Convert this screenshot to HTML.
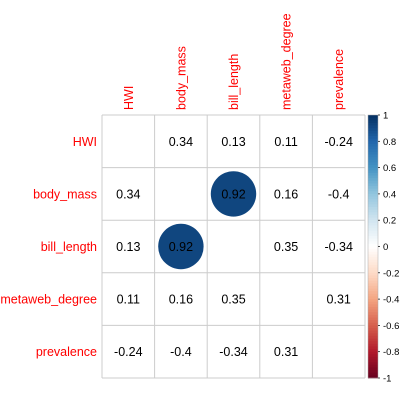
<!DOCTYPE html>
<html><head><meta charset="utf-8"><style>
body{margin:0;background:#fff}
svg{display:block;font-family:"Liberation Sans",sans-serif}
</style></head><body>
<svg id="c" width="400" height="400"></svg>
<script>
const vars=["HWI","body_mass","bill_length","metaweb_degree","prevalence"];
const corr=[
[null,0.34,0.13,0.11,-0.24],
[0.34,null,0.92,0.16,-0.4],
[0.13,0.92,null,0.35,-0.34],
[0.11,0.16,0.35,null,0.31],
[-0.24,-0.4,-0.34,0.31,null]];
const barTicks=[1,0.8,0.6,0.4,0.2,0,-0.2,-0.4,-0.6,-0.8,-1];
const cellLabels=["0.34","0.13","0.11","-0.24","0.34","0.92","0.16","-0.4","0.13","0.92","0.35","-0.34","0.11","0.16","0.35","0.31","-0.24","-0.4","-0.34","0.31"];
const NS="http://www.w3.org/2000/svg",svg=document.getElementById('c');
const L=102,T=115,S=52.6,n=vars.length;
const x=i=>L+i*S, y=i=>T+i*S;
function mk(t,a,p){const e=document.createElementNS(NS,t);for(const k in a)e.setAttribute(k,a[k]);(p||svg).appendChild(e);return e;}
function col(v){
 const stops=[[-1,[103,0,31]],[-0.8,[178,24,43]],[-0.6,[214,96,77]],[-0.4,[244,165,130]],[-0.2,[253,219,199]],[0,[255,255,255]],[0.2,[209,229,240]],[0.4,[146,197,222]],[0.6,[67,147,195]],[0.8,[33,102,172]],[1,[5,48,97]]];
 for(let i=0;i<stops.length-1;i++){const a=stops[i],b=stops[i+1];if(v>=a[0]&&v<=b[0]){const t=(v-a[0])/(b[0]-a[0]);return 'rgb('+a[1].map((c,j)=>Math.round(c+(b[1][j]-c)*t)).join(',')+')';}}
 return '#fff';
}
for(let i=0;i<=n;i++){
 let l=mk('line',{x1:x(i),x2:x(i),y1:T,y2:y(n),stroke:'#ccc','stroke-width':1});
 
 l=mk('line',{x1:L,x2:x(n),y1:y(i),y2:y(i),stroke:'#ccc','stroke-width':1});
 
}
let k=0;
for(let r=0;r<n;r++)for(let c=0;c<n;c++){
 const v=corr[r][c];if(v===null)continue;
 const cx=x(c)+S/2,cy=y(r)+S/2;
 if(Math.abs(v)>0.5){
  const ci=mk('circle',{cx:cx,cy:cy,r:0.9*S/2*Math.sqrt(Math.abs(v)),fill:col(v)});
  
 }
 const t=mk('text',{x:cx,y:cy+4.5,'text-anchor':'middle','font-size':12.5,fill:'#000'});
 t.textContent=cellLabels[k++];
 
}
vars.forEach((v,i)=>{
 let t=mk('text',{x:L-5,y:y(i)+S/2+4.5,'text-anchor':'end','font-size':12.5,fill:'#f00'});
 t.textContent=v;
 const cx=x(i)+S/2+4.5;
 t=mk('text',{x:cx,y:T-5,'font-size':12.5,fill:'#f00',transform:`rotate(-90 ${cx} ${T-5})`});
 t.textContent=v;
});
const bx=368,bw=10,bh=y(n)-T;
const g=mk('g',{});
for(let i=0;i<100;i++){
 const v=1-2*(i+0.5)/100;
 mk('rect',{x:bx,y:T+i*bh/100,width:bw,height:bh/100+0.4,fill:col(v)},g);
}
mk('rect',{x:bx,y:T,width:bw,height:bh,fill:'none',stroke:'#aaa','stroke-width':0.5},g);
barTicks.forEach(v=>{
 const ty=T+(1-v)/2*bh;
 mk('line',{x1:bx+bw,x2:bx+bw+2,y1:ty,y2:ty,stroke:'#000','stroke-width':0.7},g);
 const t=mk('text',{x:383,y:ty+3.5,'font-size':9.5,fill:'#000'},g);
 t.textContent=String(v);
 
});
</script>
</body></html>
